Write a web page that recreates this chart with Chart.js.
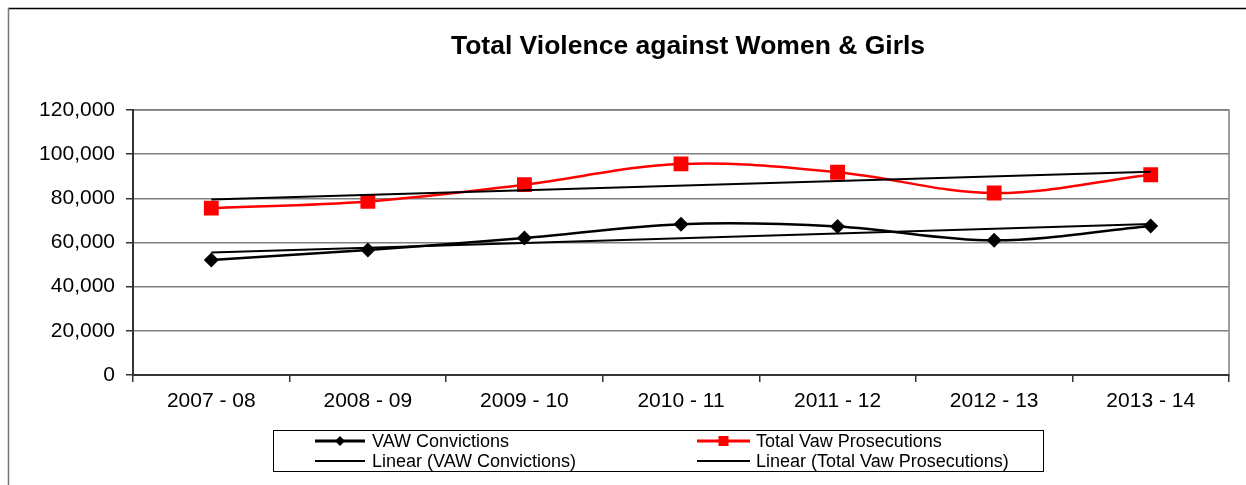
<!DOCTYPE html>
<html>
<head>
<meta charset="utf-8">
<title>Total Violence against Women & Girls</title>
<script src="https://cdn.jsdelivr.net/npm/chart.js@4/dist/chart.umd.min.js"></script>
<style>
    html, body { margin: 0; padding: 0; background: #fff; }
    #wrap { width: 1246px; height: 485px; position: relative; }
</style>
</head>
<body>
<div id="wrap"><canvas id="vawChart" width="1246" height="485"></canvas></div>
<script>
/* Total Violence against Women & Girls — line chart with linear trends */

const categories = ['2007 - 08', '2008 - 09', '2009 - 10', '2010 - 11', '2011 - 12', '2012 - 13', '2013 - 14'];
const convictions = [52100, 56600, 62000, 68300, 67300, 61000, 67500];
const prosecutions = [75600, 78600, 86200, 95600, 91800, 82400, 90700];
// trend lines: first and last category only
const convictionsTrend = [55500, null, null, null, null, null, 68400];
const prosecutionsTrend = [79500, null, null, null, null, null, 92000];
const yTicks = [0, 20000, 40000, 60000, 80000, 100000, 120000];

const FONT = '"Liberation Sans", Arial, sans-serif';
Chart.defaults.font.family = FONT;
Chart.defaults.color = '#000';

(function () {
    const legendItems = [
        { label: 'VAW Convictions', color: '#000', width: 3, marker: 'diamond', col: 0, row: 0 },
        { label: 'Total Vaw Prosecutions', color: '#ff0000', width: 3, marker: 'square', col: 1, row: 0 },
        { label: 'Linear (VAW Convictions)', color: '#000', width: 2, marker: null, col: 0, row: 1 },
        { label: 'Linear (Total Vaw Prosecutions)', color: '#000', width: 2, marker: null, col: 1, row: 1 }
    ];

    const decorPlugin = {
        id: 'decor',
        beforeDraw: function (chart) {
            const ctx = chart.ctx;
            const a = chart.chartArea;
            ctx.save();
            // outer frame (top and left visible)
            ctx.strokeStyle = '#000';
            ctx.lineWidth = 1.5;
            ctx.beginPath();
            ctx.moveTo(8, 8.5);
            ctx.lineTo(1246, 8.5);
            ctx.stroke();
            ctx.strokeStyle = '#777';
            ctx.beginPath();
            ctx.moveTo(8.5, 8);
            ctx.lineTo(8.5, 485);
            ctx.stroke();
            // plot area border
            ctx.strokeStyle = '#808080';
            ctx.lineWidth = 1.5;
            ctx.strokeRect(a.left, a.top, a.right - a.left, a.bottom - a.top);
            // title
            ctx.fillStyle = '#000';
            ctx.font = 'bold 26.5px ' + FONT;
            ctx.textAlign = 'center';
            ctx.textBaseline = 'middle';
            ctx.fillText('Total Violence against Women & Girls', 688, 47);
            ctx.restore();
        },
        afterDraw: function (chart) {
            const ctx = chart.ctx;
            ctx.save();
            ctx.strokeStyle = '#000';
            ctx.lineWidth = 1;
            ctx.strokeRect(273.5, 430.5, 770, 41);
            const cols = [{ x0: 315, x1: 365, tx: 372 }, { x0: 697, x1: 750, tx: 756 }];
            const rows = [441, 461];
            ctx.font = '18px ' + FONT;
            ctx.textBaseline = 'middle';
            ctx.textAlign = 'left';
            legendItems.forEach(function (it) {
                const c = cols[it.col];
                const y = rows[it.row];
                const mx = (c.x0 + c.x1) / 2;
                ctx.strokeStyle = it.color;
                ctx.lineWidth = it.width;
                ctx.beginPath();
                ctx.moveTo(c.x0, y);
                ctx.lineTo(c.x1, y);
                ctx.stroke();
                ctx.fillStyle = it.color;
                if (it.marker === 'diamond') {
                    ctx.beginPath();
                    ctx.moveTo(mx - 5, y);
                    ctx.lineTo(mx, y - 5);
                    ctx.lineTo(mx + 5, y);
                    ctx.lineTo(mx, y + 5);
                    ctx.closePath();
                    ctx.fill();
                } else if (it.marker === 'square') {
                    ctx.fillRect(mx - 5, y - 5, 10, 10);
                }
                ctx.fillStyle = '#000';
                ctx.fillText(it.label, c.tx, y + 1);
            });
            ctx.restore();
        }
    };

    new Chart(document.getElementById('vawChart'), {
        type: 'line',
        data: {
            labels: categories,
            datasets: [
                {
                    label: 'Linear (VAW Convictions)',
                    data: convictionsTrend,
                    borderColor: '#000',
                    borderWidth: 2,
                    pointRadius: 0,
                    spanGaps: true,
                    tension: 0
                },
                {
                    label: 'Linear (Total Vaw Prosecutions)',
                    data: prosecutionsTrend,
                    borderColor: '#000',
                    borderWidth: 2,
                    pointRadius: 0,
                    spanGaps: true,
                    tension: 0
                },
                {
                    label: 'VAW Convictions',
                    data: convictions,
                    borderColor: '#000',
                    backgroundColor: '#000',
                    borderWidth: 2.5,
                    pointStyle: 'rectRot',
                    pointRadius: 7.5,
                    pointBorderWidth: 0,
                    tension: 0.35
                },
                {
                    label: 'Total Vaw Prosecutions',
                    data: prosecutions,
                    borderColor: '#ff0000',
                    backgroundColor: '#ff0000',
                    borderWidth: 2.5,
                    pointStyle: 'rect',
                    pointRadius: 10.5,
                    pointBorderWidth: 0,
                    tension: 0.35
                }
            ]
        },
        options: {
            responsive: false,
            animation: false,
            layout: { padding: { left: 0, top: 110, right: 17, bottom: 0 } },
            plugins: {
                legend: { display: false },
                title: { display: false },
                tooltip: { enabled: false }
            },
            scales: {
                x: {
                    offset: true,
                    afterFit: function (scale) { scale.height = 110; },
                    grid: {
                        offset: true,
                        drawOnChartArea: false,
                        drawTicks: true,
                        tickLength: 7,
                        color: '#333',
                        lineWidth: 1.5
                    },
                    border: { color: '#333', width: 2 },
                    ticks: {
                        color: '#000',
                        padding: 7,
                        maxRotation: 0,
                        font: { size: 21 }
                    }
                },
                y: {
                    min: 0,
                    max: 120000,
                    afterFit: function (scale) { scale.width = 133; },
                    afterBuildTicks: function (scale) {
                        scale.ticks = yTicks.map(function (v) { return { value: v }; });
                    },
                    grid: {
                        color: '#808080',
                        lineWidth: 1.5,
                        drawTicks: true,
                        tickLength: 7,
                        tickColor: '#333'
                    },
                    border: { color: '#333', width: 2 },
                    ticks: {
                        color: '#000',
                        padding: 11,
                        font: { size: 21 },
                        callback: function (val) { return Number(val).toLocaleString('en-US'); }
                    }
                }
            }
        },
        plugins: [decorPlugin]
    });
})();
</script>
</body>
</html>
